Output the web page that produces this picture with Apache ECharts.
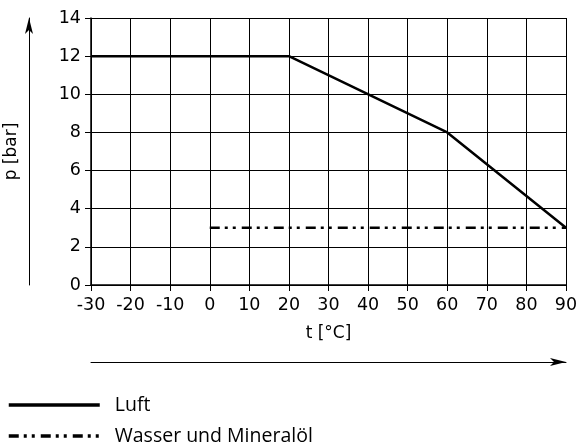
<!DOCTYPE html>
<html>
<head>
<meta charset="utf-8">
<script src="https://cdn.jsdelivr.net/npm/echarts@6/dist/echarts.min.js"></script>
<style>html,body{margin:0;padding:0;background:#fff}#c{width:579px;height:447px}</style>
</head>
<body>
<div id="c"></div>
<script>
const seriesNames = ['Luft', 'Wasser und Mineralöl'];
const luftData = [[-30, 12], [20, 12], [60, 8], [90, 3]];
const wasserData = [[0, 3], [90, 3]];
const xRange = { min: -30, max: 90, interval: 10 };
const yRange = { min: 0, max: 14, interval: 2 };
const xName = 't [°C]';
const yName = 'p [bar]';

const chart = echarts.init(document.getElementById('c'), null, { renderer: 'canvas' });
const tickFont = { fontFamily: 'DejaVu Sans', fontSize: 17.5, color: '#000' };
const legendText = { fontFamily: 'Open Sans', fontSize: 19.5, lineHeight: 20, color: '#000', padding: [0, 0, 0, 10] };
function legendAt(name, top) {
  return {
    orient: 'vertical', left: 7, top: top, padding: 0,
    itemWidth: 91, itemHeight: 14,
    data: [name],
    itemStyle: { opacity: 0 },
    lineStyle: { width: 3.5 },
    textStyle: legendText
  };
}
const option = {
  animation: false,
  backgroundColor: '#fff',
  grid: { left: 91, right: 13, top: 18, bottom: 162, outerBoundsMode: 'none', containLabel: false },
  legend: [legendAt(seriesNames[0], 395), legendAt(seriesNames[1], 426)],
  xAxis: [{
    type: 'value', min: xRange.min, max: xRange.max, interval: xRange.interval,
    axisLine: { show: true, onZero: false, lineStyle: { color: '#000', width: 1.5 } },
    axisTick: { show: true, length: 6, lineStyle: { color: '#000' } },
    splitLine: { show: true, lineStyle: { color: '#000', width: 1 } },
    axisLabel: Object.assign({ margin: 11 }, tickFont),
    name: xName, nameLocation: 'middle', nameGap: 40,
    nameTextStyle: { fontFamily: 'DejaVu Sans', fontSize: 17, color: '#000' }
  }, {
    type: 'value', min: xRange.min, max: xRange.max, position: 'bottom', offset: 77,
    axisLine: { show: true, onZero: false, symbol: ['none', 'arrow'], symbolSize: [6, 16], lineStyle: { color: '#000', width: 1 } },
    axisTick: { show: false }, axisLabel: { show: false }, splitLine: { show: false }
  }],
  yAxis: [{
    type: 'value', min: yRange.min, max: yRange.max, interval: yRange.interval,
    axisLine: { show: true, onZero: false, lineStyle: { color: '#000', width: 1.5 } },
    axisTick: { show: true, length: 6, lineStyle: { color: '#000' } },
    splitLine: { show: true, lineStyle: { color: '#000', width: 1 } },
    axisLabel: Object.assign({ margin: 10 }, tickFont)
  }, {
    type: 'value', min: yRange.min, max: yRange.max, position: 'left', offset: 62,
    axisLine: { show: true, onZero: false, symbol: ['none', 'arrow'], symbolSize: [6, 16], lineStyle: { color: '#000', width: 1 } },
    axisTick: { show: false }, axisLabel: { show: false }, splitLine: { show: false },
    name: yName, nameLocation: 'middle', nameGap: 9, nameRotate: 90,
    nameTextStyle: { fontFamily: 'DejaVu Sans', fontSize: 17, color: '#000' }
  }],
  series: [{
    name: seriesNames[0], type: 'line', data: luftData, symbol: 'none',
    lineStyle: { color: '#000', width: 2.5 }, itemStyle: { color: '#000' }
  }, {
    name: seriesNames[1], type: 'line', data: wasserData, symbol: 'none',
    lineStyle: { color: '#000', width: 2.5, type: [10, 5, 3, 5, 3, 6], cap: 'butt' }, itemStyle: { color: '#000' }
  }]
};
chart.setOption(option);
</script>
</body>
</html>
